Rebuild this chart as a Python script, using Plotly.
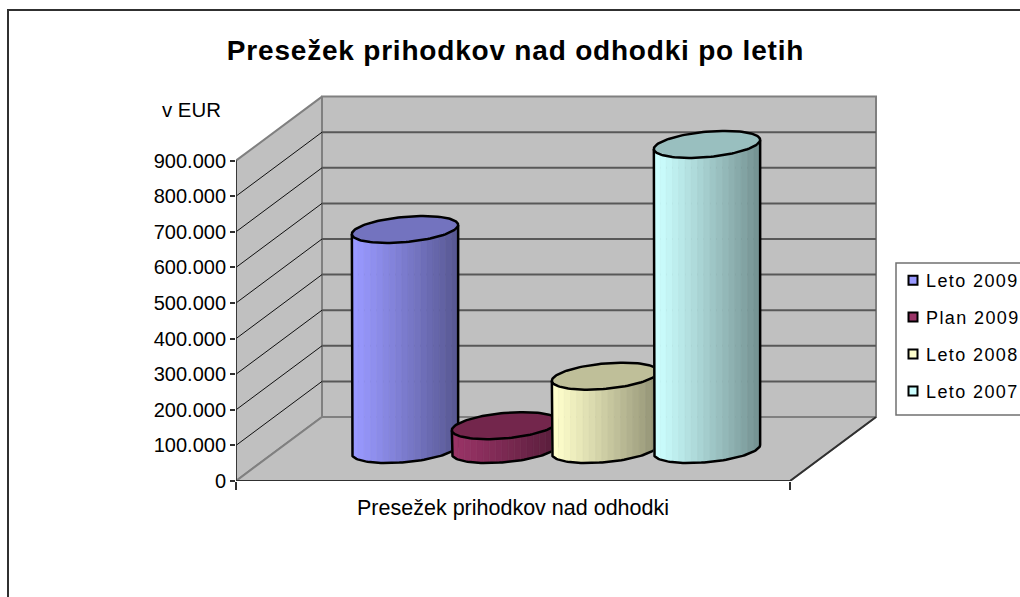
import numpy as np
import plotly.graph_objects as go

# ---- data ----
series_names = ["Leto 2009", "Plan 2009", "Leto 2008", "Leto 2007"]
series_values = [618000, 67000, 206000, 857000]
series_colors = ["#9999FF", "#993366", "#FFFFCC", "#CCFFFF"]
value_ticks = [0, 100000, 200000, 300000, 400000, 500000, 600000, 700000, 800000, 900000]
value_tick_labels = ["0", "100.000", "200.000", "300.000", "400.000", "500.000",
                     "600.000", "700.000", "800.000", "900.000"]
category_label = "Presežek prihodkov nad odhodki"
title_text = "Presežek prihodkov nad odhodki po letih"
unit_label = "v EUR"

# ---- layout geometry (pixels) ----
W, H = 1020, 597
PL, PR, PT, PB = 236, 880, 90, 481
PX_PER_100K = 35.6
EUR_PER_PX = 100000 / PX_PER_100K
DX, DY = 86, 64                # floor depth vector
FRONT = 554                    # floor front width
CENTERS = [169, 269, 369, 471] # cylinder centres, px from axis
A, B, HH = 50, 18, 13.5        # ellipse vectors
R = np.hypot(A, B)
BASE_LIFT = 31.5               # px: cylinder base centre above the front edge


def ey(px):
    return px * EUR_PER_PX


def shade(hex_color, f):
    r, g, b = [int(hex_color[i:i + 2], 16) for i in (1, 3, 5)]
    return f"rgb({r * f:.0f},{g * f:.0f},{b * f:.0f})"


fig = go.Figure()


def poly(x, y, fill=None, line=None, width=1):
    fig.add_trace(go.Scatter(
        x=list(x), y=list(y), mode="lines", showlegend=False, hoverinfo="skip",
        fill="toself" if fill else None, fillcolor=fill,
        line=dict(color=line or fill or "rgba(0,0,0,0)", width=width),
    ))


top = value_ticks[-1]
depth = ey(DY)
WALL = "#C0C0C0"
EDGE = "#808080"
# walls and floor
poly([0, DX, DX, 0, 0], [0, depth, top + depth, top, 0], WALL, EDGE, 2)
poly([DX, DX + FRONT, DX + FRONT, DX, DX],
     [depth, depth, top + depth, top + depth, depth], WALL, EDGE, 2)
poly([0, FRONT, FRONT + DX, DX, 0], [0, 0, depth, depth, 0], WALL, EDGE, 2)
# gridlines
for v in value_ticks[1:-1]:
    poly([0, DX], [v, v + depth], None, "#101010", 1)
    poly([DX, DX + FRONT], [v + depth, v + depth], None, "#585858", 2)
# dark front edges
poly([0, FRONT, FRONT + DX], [0, 0, depth], None, "#303030", 1.8)
poly([0, 0], [0, top], None, "#303030", 1.8)

# cylinders, left to right
t = np.linspace(0, 2 * np.pi, 121)
t_right = np.arctan2(B, A)
t_low = np.linspace(t_right, t_right - np.pi, 61)  # lower half, right to left
N_STRIPS = 17
for name, v, c, cx in zip(series_names, series_values, series_colors, CENTERS):
    base = ey(BASE_LIFT)
    lx = cx + A * np.cos(t_low) + B * np.sin(t_low)
    ly = HH * np.sin(t_low)  # px upward relative to centre
    order = np.argsort(lx)
    lx, ly = lx[order], ly[order]
    edges = np.linspace(cx - R, cx + R, N_STRIPS + 1)
    for i in range(N_STRIPS):
        xs = np.linspace(edges[i], edges[i + 1], 5)
        ys = np.interp(xs, lx, ly)
        f = 1 - 0.42 * (i / (N_STRIPS - 1)) ** 1.1
        col = shade(c, f)
        poly(np.r_[xs, xs[::-1], xs[0]],
             np.r_[base + v + ey(ys), (base + ey(ys))[::-1], base + v + ey(ys[0])],
             col, col, 0.6)
    # silhouette
    poly(np.r_[lx[0], lx, lx[-1]],
         np.r_[base + v + ey(ly[0]), base + ey(ly), base + v + ey(ly[-1])],
         None, "#000000", 2.5)
    # top ellipse
    poly(cx + A * np.cos(t) + B * np.sin(t), base + v + ey(HH * np.sin(t)),
         shade(c, 0.75), "#000000", 2.5)

# legend entries
for name, c in zip(series_names, series_colors):
    fig.add_trace(go.Scatter(
        x=[None], y=[None], mode="markers", name=name, legendgroup=name,
        marker=dict(symbol="square", size=9, color=c, line=dict(color="#000000", width=2)),
    ))

PW = PR - PL
PH = PB - PT


def px_x(p):
    return (p - PL) / PW


def px_y(p):
    return (PB - p) / PH


fig.update_layout(
    width=W, height=H,
    margin=dict(l=PL, r=W - PR, t=PT, b=H - PB, autoexpand=False),
    paper_bgcolor="#FFFFFF", plot_bgcolor="#FFFFFF",
    font=dict(family="Liberation Sans, Arial, sans-serif", color="#000000", size=20),
    title=dict(text=f"<b>{title_text}</b>", x=515.5 / W, xanchor="center", xref="container",
               y=1 - 50 / H, yanchor="middle", font=dict(size=28)),
    xaxis=dict(range=[0, PW], showgrid=False, zeroline=False, showline=False,
               tickmode="array", tickvals=[FRONT / 2], ticktext=[category_label],
               ticks="", tickfont=dict(size=21.5), ticklabelstandoff=11,
               minor=dict(tickmode="array", tickvals=[0, FRONT], ticks="outside",
                          ticklen=8, tickwidth=1.5, tickcolor="#303030")),
    yaxis=dict(range=[0, PH * EUR_PER_PX], showgrid=False, zeroline=False, showline=False,
               tickmode="array", tickvals=value_ticks, ticktext=value_tick_labels,
               ticks="outside", ticklen=5, tickwidth=1.5, tickcolor="#303030",
               tickfont=dict(size=20)),
    legend=dict(x=px_x(886), y=px_y(262), xanchor="left", yanchor="top",
                bgcolor="rgba(0,0,0,0)", borderwidth=0, traceorder="grouped",
                tracegroupgap=10.5, font=dict(size=18), itemclick=False, itemdoubleclick=False),
    shapes=[
        dict(type="rect", xref="paper", yref="paper", x0=px_x(8), x1=px_x(1030),
             y0=px_y(610), y1=px_y(10), line=dict(color="#303030", width=2), layer="below"),
        dict(type="rect", xref="paper", yref="paper", x0=px_x(896), x1=px_x(1030),
             y0=px_y(415), y1=px_y(263), line=dict(color="#707070", width=1.5), layer="below"),
    ],
    annotations=[
        dict(text=unit_label, xref="paper", yref="paper", x=px_x(191.5), y=px_y(110),
             xanchor="center", yanchor="middle", showarrow=False, font=dict(size=20.4)),
    ],
)

post = """
document.body.style.margin='0';document.body.style.overflow='hidden';
document.querySelectorAll('.legendtext').forEach(function(e){e.style.letterSpacing='1.4px';});
document.querySelectorAll('.gtitle').forEach(function(e){e.style.letterSpacing='0.8px';});
document.querySelectorAll('.legendpoints path').forEach(function(e){e.setAttribute('transform','translate(27,0)');});
document.querySelectorAll('.legend, .legend .scrollbox, .legend .groups').forEach(function(e){e.removeAttribute('clip-path');e.style.clipPath='none';});
"""
fig.write_html("out.html", post_script=post, config={"displayModeBar": False})
